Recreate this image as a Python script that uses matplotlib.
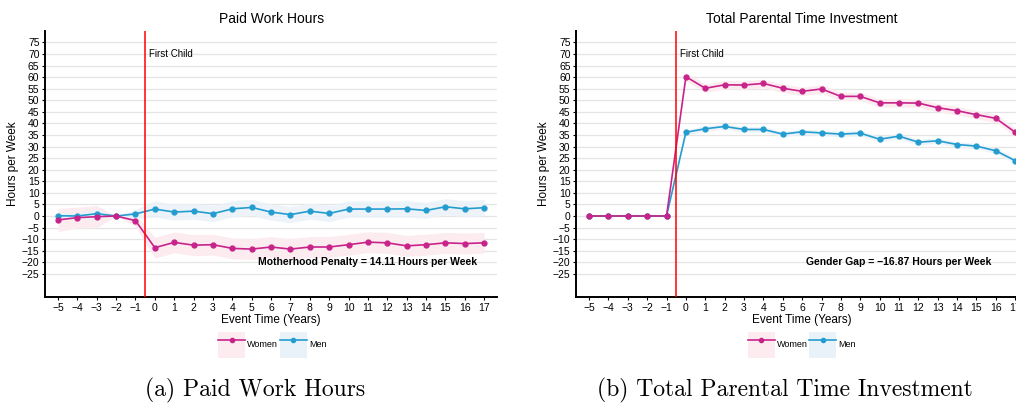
import matplotlib

matplotlib.use("Agg")
import matplotlib.pyplot as plt
from matplotlib.lines import Line2D
from matplotlib.patches import Patch
import numpy as np

plt.rcParams["font.family"] = ["Liberation Sans", "DejaVu Sans"]

# ── 数据 ──
event_time = list(range(-5, 18))

# (a) Paid Work Hours
work_women = [-1.7, -0.7, -0.3, 0.0, -2.0, -13.7, -11.4, -12.6, -12.4, -14.0, -14.3, -13.4,
              -14.3, -13.4, -13.4, -12.4, -11.3, -11.6, -12.9, -12.4, -11.6, -11.9, -11.6]
work_women_ci = [5.0, 4.5, 4.8, 0.0, 2.5, 4.5, 4.5, 4.5, 4.5, 4.5, 4.5, 4.5,
                 4.5, 4.5, 4.5, 4.5, 4.5, 4.5, 4.5, 4.5, 4.5, 4.5, 4.5]
work_men = [0.1, 0.0, 1.0, 0.0, 0.9, 3.0, 1.7, 2.1, 1.0, 3.1, 3.7, 1.7,
            0.6, 2.1, 1.1, 3.0, 3.0, 3.0, 3.1, 2.4, 4.0, 3.1, 3.6]
work_men_ci = [1.5, 1.5, 2.0, 0.0, 2.0, 3.5, 3.5, 3.5, 3.5, 3.5, 3.5, 3.5,
               3.5, 3.5, 3.5, 3.5, 3.5, 3.5, 3.5, 3.5, 3.5, 3.5, 3.5]

# (b) Total Parental Time Investment
care_women = [0.0, 0.0, 0.0, 0.0, 0.0, 60.2, 55.2, 56.7, 56.6, 57.3, 55.2, 53.9,
              54.9, 51.7, 51.7, 48.9, 48.9, 48.8, 46.8, 45.5, 43.8, 42.2, 36.2]
care_women_ci = [0.0, 0.0, 0.0, 0.0, 0.0, 1.8, 1.8, 1.8, 1.8, 1.8, 1.8, 1.8,
                 1.8, 1.8, 1.8, 1.8, 1.8, 1.8, 1.8, 1.8, 1.8, 1.8, 1.8]
care_men = [0.0, 0.0, 0.0, 0.0, 0.0, 36.2, 37.7, 38.7, 37.4, 37.4, 35.4, 36.4,
            35.9, 35.4, 35.8, 33.2, 34.5, 31.9, 32.5, 30.9, 30.2, 28.2, 23.9]
care_men_ci = [0.0, 0.0, 0.0, 0.0, 0.0, 1.2, 1.2, 1.2, 1.2, 1.2, 1.2, 1.2,
               1.2, 1.2, 1.2, 1.2, 1.2, 1.2, 1.2, 1.2, 1.2, 1.2, 1.2]

panels = [
    ("Paid Work Hours", work_women, work_women_ci, work_men, work_men_ci,
     "Motherhood Penalty = 14.11 Hours per Week", "(a) Paid Work Hours"),
    ("Total Parental Time Investment", care_women, care_women_ci, care_men, care_men_ci,
     "Gender Gap = \u221216.87 Hours per Week", "(b) Total Parental Time Investment"),
]

y_ticks = list(range(-25, 80, 5))

# ── 样式 ──
C_WOMEN = "#c8238a"
C_MEN = "#239dd0"
F_WOMEN = "#fcebef"
F_MEN = "#eaf2f9"

fig = plt.figure(figsize=(10.16, 4.05), dpi=100)

ax_lefts = [0.0443, 0.567]
legend_x = [0.268, 0.789]
caption_x = [0.251, 0.773]

for i, (title, w, wci, m, mci, note, caption) in enumerate(panels):
    ax = fig.add_axes([ax_lefts[i], 0.2667, 0.445, 0.657])
    x = np.array(event_time)
    w = np.array(w)
    m = np.array(m)
    wci = np.array(wci)
    mci = np.array(mci)

    ax.fill_between(x, w - wci, w + wci, color=F_WOMEN, lw=0, zorder=1)
    ax.fill_between(x, m - mci, m + mci, color=F_MEN, lw=0, zorder=1, alpha=0.85)
    ax.plot(x, m, color=C_MEN, lw=1.2, marker="o", ms=3.5, zorder=3)
    ax.plot(x, w, color=C_WOMEN, lw=1.2, marker="o", ms=3.5, zorder=4)

    ax.axvline(-0.5, color="red", lw=1.1, zorder=5)
    ax.text(-0.3, 70, "First Child", fontsize=7, ha="left", va="center")
    ax.text(11, -20, note, fontsize=7.5, ha="center", va="center", fontweight="bold")

    ax.set_xlim(-5.67, 17.67)
    ax.set_ylim(-35, 80)
    ax.set_xticks(event_time)
    ax.set_yticks(y_ticks)
    ax.grid(axis="y", color="#e4e4e4", lw=0.9, zorder=0)
    ax.set_axisbelow(True)
    ax.tick_params(axis="both", labelsize=7.5, length=2.5, pad=1.5, width=0.8)
    for s in ["top", "right"]:
        ax.spines[s].set_visible(False)
    ax.spines["left"].set_linewidth(1.4)
    ax.spines["bottom"].set_linewidth(1.4)

    ax.set_title(title, fontsize=10, pad=6)
    ax.set_xlabel("Event Time (Years)", fontsize=8.5, labelpad=1)
    ax.set_ylabel("Hours per Week", fontsize=8.5, labelpad=2)

    handles = [
        (Patch(facecolor=F_WOMEN, edgecolor="none"),
         Line2D([], [], color=C_WOMEN, lw=1.2, marker="o", ms=3)),
        (Patch(facecolor=F_MEN, edgecolor="none"),
         Line2D([], [], color=C_MEN, lw=1.2, marker="o", ms=3)),
    ]
    fig.legend(handles, ["Women", "Men"], loc="center",
               bbox_to_anchor=(legend_x[i], 0.148), ncol=2, frameon=False,
               fontsize=6.5, handlelength=3.0, handleheight=4.2,
               handletextpad=0.2, columnspacing=0.2)

    fig.text(caption_x[i], 0.037, caption, fontsize=17, family="cmr10",
             ha="center", va="center")

fig.savefig("out.png", dpi=100)
